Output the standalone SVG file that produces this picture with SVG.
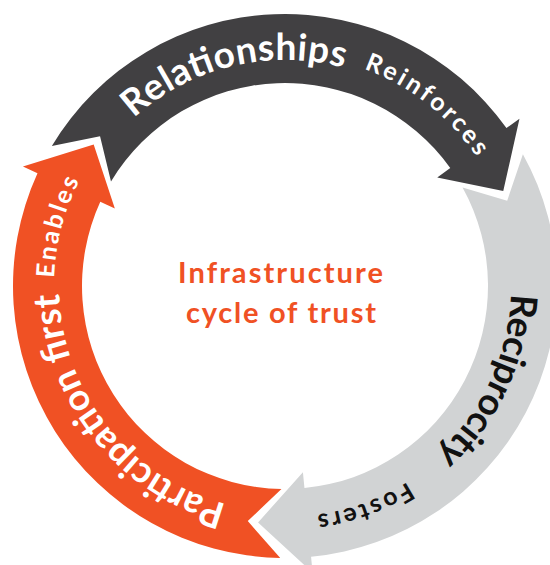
<svg xmlns="http://www.w3.org/2000/svg" xmlns:xlink="http://www.w3.org/1999/xlink" width="550" height="565" viewBox="0 0 550 565">
<style>
.big{font-family:Lato,"Liberation Sans",sans-serif;font-weight:700;font-size:37px}
.small{font-family:Lato,"Liberation Sans",sans-serif;font-weight:700;font-size:25px}
.center{font-family:Lato,"Liberation Sans",sans-serif;font-weight:700;font-size:29px;fill:#F05124;text-anchor:middle}
.w{fill:#FFFFFF}
.k{fill:#111111}
</style>
<defs>
<path id="pRel" d="M133.78,118.05 A226,226 0 0 1 343.49,67.70"/>
<path id="pRec" d="M510.86,293.89 A226,226 0 0 1 436.22,453.95"/>
<path id="pPar" d="M226.51,504.30 A226,226 0 0 1 59.14,293.89"/>
<path id="pRei" d="M364.01,68.93 A231,231 0 0 1 476.51,156.83"/>
<path id="pFos" d="M407.41,481.90 A231,231 0 0 1 317.15,514.75"/>
<path id="pEna" d="M54.14,277.94 A231,231 0 0 1 79.18,181.13"/>
</defs>
<rect width="550" height="565" fill="#FFFFFF"/>
<g id="participation">
<path fill="#F05124" d="M280.25,557.96 A272,272 0 0 1 37.49,173.20 L22.93,166.57 L93.68,144.43 L114.84,208.45 L100.28,201.82 A203,203 0 0 0 281.46,488.97 L247.77,521.07 Z"/>
<text class="big w"><textPath xlink:href="#pPar" textLength="288" lengthAdjust="spacing">Participation first</textPath></text>
</g>
<g id="relationships">
<path fill="#414042" d="M51.85,145.91 A272,272 0 0 1 506.44,128.05 L519.47,118.76 L503.26,191.10 L437.24,177.41 L450.27,168.12 A203,203 0 0 0 111.00,181.45 L100.04,136.22 Z"/>
<text class="big w"><textPath xlink:href="#pRel" textLength="225" lengthAdjust="spacing">Relationships</textPath></text>
</g>
<g id="reciprocity">
<path fill="#D1D3D4" d="M522.90,154.13 A272,272 0 0 1 311.07,556.75 L312.60,572.67 L258.06,522.47 L302.92,472.14 L304.46,488.07 A203,203 0 0 0 462.55,187.58 L507.19,200.71 Z"/>
<text class="big k"><textPath xlink:href="#pRec" textLength="181" lengthAdjust="spacing">Reciprocity</textPath></text>
</g>
<g id="connectors">
<text class="small w"><textPath xlink:href="#pRei" textLength="145" lengthAdjust="spacing">Reinforces</textPath></text>
<text class="small k"><textPath xlink:href="#pFos" textLength="97" lengthAdjust="spacing">Fosters</textPath></text>
<text class="small w"><textPath xlink:href="#pEna" textLength="101" lengthAdjust="spacing">Enables</textPath></text>
</g>
<g id="center-label">
<text class="center" x="280.5" y="283" textLength="205" lengthAdjust="spacing">Infrastructure</text>
<text class="center" x="281" y="323" textLength="190" lengthAdjust="spacing">cycle of trust</text>
</g>
</svg>
